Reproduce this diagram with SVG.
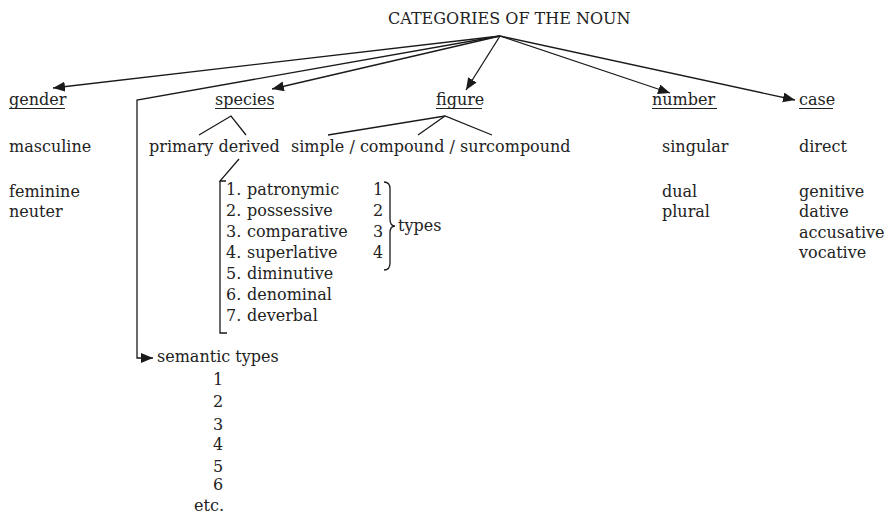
<svg xmlns="http://www.w3.org/2000/svg" width="887" height="515" viewBox="0 0 887 515">
<defs>
<marker id="ah" markerUnits="userSpaceOnUse" markerWidth="14" markerHeight="12" refX="12" refY="5" orient="auto">
<path d="M0,0 L12,5 L0,10 z" fill="#1a1a1a"/>
</marker>
<style>
text{font-family:"DejaVu Serif","Liberation Serif",serif;font-size:16px;fill:#222}
.ln{stroke:#1a1a1a;stroke-width:1.3;fill:none}
.arr{stroke:#1a1a1a;stroke-width:1.3;fill:none;marker-end:url(#ah)}
.ul{stroke:#222;stroke-width:1}
</style>
</defs>
<rect width="887" height="515" fill="#fff"/>
<g id="title"><text x="388" y="24">CATEGORIES OF THE NOUN</text></g>
<g id="connectors">
<line class="arr" x1="500" y1="36" x2="53" y2="88"/>
<line class="arr" x1="500" y1="36" x2="272" y2="89"/>
<line class="arr" x1="500" y1="36" x2="466" y2="90"/>
<line class="arr" x1="500" y1="36" x2="670" y2="93"/>
<line class="arr" x1="500" y1="36" x2="795" y2="100"/>
<polyline class="arr" points="500,36 137,100 137,358 153,358"/>
<polyline class="ln" points="199,135 231,116 246,135"/>
<polyline class="ln" points="328,135 445,116 492,135"/>
<line class="ln" x1="445" y1="116" x2="418" y2="135"/>
<polyline class="ln" points="239,159 220,181 226,181"/>
<polyline class="ln" points="220,181 220,333 227,333"/>
<path class="ln" d="M384,182 Q390,182 390,189 L390,219 Q390,226 395,226 Q390,226 390,233 L390,263 Q390,270 384,270"/>
</g>
<g id="gender">
<text x="9" y="105">gender</text><line class="ul" x1="9" y1="108.5" x2="65" y2="108.5"/>
<text x="9" y="152">masculine</text>
<text x="9" y="197">feminine</text>
<text x="9" y="217">neuter</text>
</g>
<g id="species">
<text x="215" y="105">species</text><line class="ul" x1="215" y1="108.5" x2="274" y2="108.5"/>
<text x="149" y="152">primary derived</text>
</g>
<g id="derived-list">
<text x="226" y="195">1.</text><text x="247" y="195">patronymic</text>
<text x="226" y="216">2.</text><text x="247" y="216">possessive</text>
<text x="226" y="237">3.</text><text x="247" y="237">comparative</text>
<text x="226" y="258">4.</text><text x="247" y="258">superlative</text>
<text x="226" y="279">5.</text><text x="247" y="279">diminutive</text>
<text x="226" y="300">6.</text><text x="247" y="300">denominal</text>
<text x="226" y="321">7.</text><text x="247" y="321">deverbal</text>
</g>
<g id="types">
<text x="373" y="195">1</text>
<text x="373" y="216">2</text>
<text x="373" y="237">3</text>
<text x="373" y="258">4</text>
<text x="398" y="231">types</text>
</g>
<g id="figure">
<text x="436" y="105">figure</text><line class="ul" x1="436" y1="108.5" x2="482" y2="108.5"/>
<text x="291" y="152">simple / compound / surcompound</text>
</g>
<g id="number">
<text x="652" y="105">number</text><line class="ul" x1="652" y1="108.5" x2="717" y2="108.5"/>
<text x="662" y="152">singular</text>
<text x="662" y="197">dual</text>
<text x="662" y="217">plural</text>
</g>
<g id="case">
<text x="799" y="105">case</text><line class="ul" x1="799" y1="108.5" x2="833" y2="108.5"/>
<text x="799" y="152">direct</text>
<text x="799" y="197">genitive</text>
<text x="799" y="217">dative</text>
<text x="799" y="238">accusative</text>
<text x="799" y="258">vocative</text>
</g>
<g id="semantic-types">
<text x="157" y="362">semantic types</text>
<g text-anchor="middle">
<text x="218" y="385">1</text>
<text x="218" y="407">2</text>
<text x="218" y="430">3</text>
<text x="218" y="450">4</text>
<text x="218" y="472">5</text>
<text x="218" y="490">6</text>
<text x="209" y="511">etc.</text>
</g>
</g>
</svg>
